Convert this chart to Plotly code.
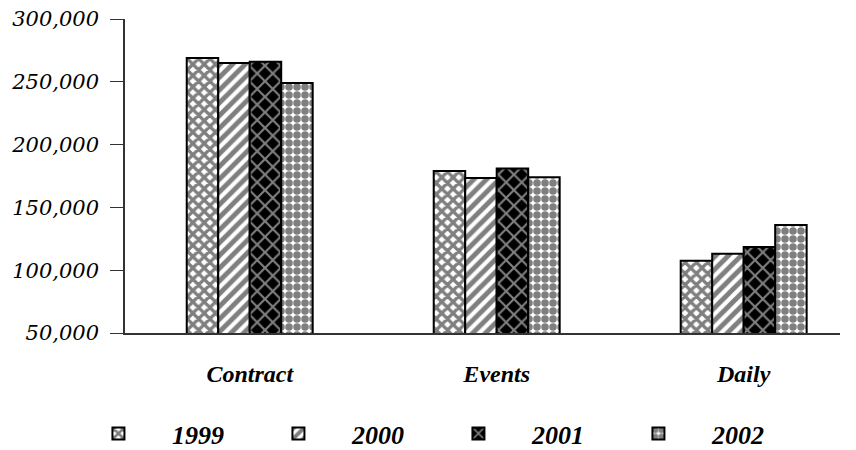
import plotly.graph_objects as go

categories = ["Contract", "Events", "Daily"]
years = ["1999", "2000", "2001", "2002"]
values_1999 = [269000, 179000, 107500]
values_2000 = [265000, 173500, 113000]
values_2001 = [266000, 181000, 118500]
values_2002 = [249000, 174000, 136000]
y_ticks = [50000, 100000, 150000, 200000, 250000, 300000]
y_tick_labels = ["50,000", "100,000", "150,000", "200,000", "250,000", "300,000"]

series = [values_1999, values_2000, values_2001, values_2002]
patterns = [
    dict(shape="x", fgcolor="black", bgcolor="white", size=8, solidity=0.65),
    dict(shape="/", fgcolor="black", bgcolor="white", size=9, solidity=0.55),
    dict(shape="x", fgcolor="white", bgcolor="black", size=11, solidity=0.35),
    dict(shape=".", fgcolor="black", bgcolor="white", size=8, solidity=0.7),
]

fig = go.Figure()
for name, vals, pat in zip(years, series, patterns):
    fig.add_trace(go.Bar(
        x=categories, y=vals, name=name,
        marker=dict(color="white", pattern=pat, line=dict(color="black", width=2)),
    ))

serif = "Liberation Serif"
fig.update_layout(
    width=856, height=450,
    margin=dict(l=125, r=16, t=19, b=117, autoexpand=False),
    paper_bgcolor="white", plot_bgcolor="white",
    barmode="group", bargap=0.49, bargroupgap=0,
    showlegend=True,
    legend=dict(
        orientation="h", x=-0.084, y=-0.395, xanchor="left", yanchor="bottom",
        font=dict(family=serif, size=26, color="black", weight="bold", style="italic"),
        itemwidth=97, entrywidth=68, entrywidthmode="pixels",
        traceorder="normal", borderwidth=0,
    ),
    xaxis=dict(
        range=[-0.505, 2.39], showline=True, linecolor="#333", linewidth=1.5,
        ticks="", showgrid=False, ticklabelstandoff=18, automargin=False,
        tickfont=dict(family=serif, size=24, color="black", weight="bold", style="italic"),
    ),
    yaxis=dict(
        range=[50000, 300000], tickvals=y_ticks, ticktext=y_tick_labels,
        showline=True, linecolor="#333", linewidth=1.5,
        ticks="outside", ticklen=13, tickcolor="#333", tickwidth=1.2,
        showgrid=False, zeroline=False, ticklabelstandoff=7, automargin=False,
        tickfont=dict(family="DejaVu Serif", size=21, color="black", style="italic"),
    ),
)

fig.write_html(
    "out.html",
    config={"displayModeBar": False},
    post_script="document.body.style.margin='0';document.body.style.overflow='hidden';",
)
